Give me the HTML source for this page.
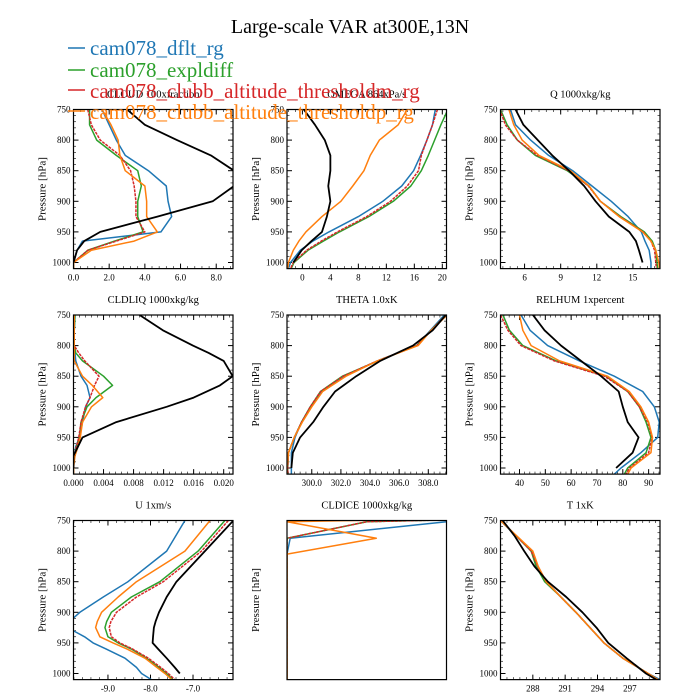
<!DOCTYPE html>
<html><head><meta charset="utf-8"><title>Large-scale VAR</title>
<style>
html,body{margin:0;padding:0;background:#fff;}
svg{display:block;font-family:"Liberation Serif",serif;}
</style></head>
<body>
<svg id="fig" width="700" height="700" viewBox="0 0 700 700" xmlns="http://www.w3.org/2000/svg">
<rect width="700" height="700" fill="#fff"/>
<text x="350" y="33" font-size="20" text-anchor="middle">Large-scale VAR at300E,13N</text>
<g id="panels"></g>
<g id="legend">
 <line x1="68" y1="48" x2="85" y2="48" stroke="#1f77b4" stroke-width="1.5"/>
 <text x="90" y="55" font-size="21" fill="#1f77b4">cam078_dflt_rg</text>
 <line x1="68" y1="70" x2="85" y2="70" stroke="#2ca02c" stroke-width="1.5"/>
 <text x="90" y="77" font-size="21" fill="#2ca02c">cam078_expldiff</text>
 <line x1="68" y1="90" x2="85" y2="90" stroke="#d62728" stroke-width="1.5"/>
 <text x="90" y="98" font-size="21" fill="#d62728">cam078_clubb_altitude_thresholdm_rg</text>
 <line x1="68" y1="111" x2="85" y2="111" stroke="#ff7f0e" stroke-width="1.5"/>
 <text x="90" y="119" font-size="21" fill="#ff7f0e">cam078_clubb_altitude_thresholdp_rg</text>
</g>
</svg>
<script>
const cloudLev=[750,775,800,825,850,875,900,925,950,965,980,1000,1010];
const cloudObs=[3.0,4.0,5.8,7.7,9.0,9.0,7.8,4.7,1.5,0.6,0.2,0,null];
const cloudDflt=[1.6,2.0,2.4,2.9,4.2,5.2,5.3,5.5,4.9,0.5,0.2,0,0];
const cloudExpl=[0.9,0.9,1.3,2.4,3.6,3.8,3.6,3.6,3.9,2.3,0.8,0,0];
const cloudTm=[0.8,1.0,1.5,2.6,3.2,3.4,3.5,3.5,4.0,2.4,0.8,0,0];
const cloudTp=[1.6,2.1,2.5,2.6,2.9,4.0,4.1,4.1,4.7,3.4,1.0,0,0];
const cloudTicks=[0,2,4,6,8];
const cloudTickLabels=["0.0","2.0","4.0","6.0","8.0"];

const omegaLev=[750,775,800,825,850,875,900,925,950,965,980,1000,1010];
const omegaObs=[0.2,1.8,3.2,4.0,4.0,3.7,4.0,3.5,2.8,1.3,-0.1,-1.3,null];
const omegaDflt=[19.0,18.6,17.8,16.9,15.9,14.2,11.5,8.0,3.8,1.5,-0.3,-1.7,-2.0];
const omegaExpl=[20.8,19.8,18.9,18.0,17.0,15.5,13.0,9.5,5.3,3.0,0.8,-1.2,-1.6];
const omegaTm=[19.3,18.6,17.8,17.0,16.6,15.0,12.6,9.2,5.0,2.7,0.6,-1.3,-1.7];
const omegaTp=[15.0,13.7,11.0,9.7,8.8,7.2,5.5,2.8,0.5,-0.5,-1.3,-2.0,-2.1];
const omegaTicks=[0,4,8,12,16,20];
const omegaTickLabels=["0","4","8","12","16","20"];

const qLev=[750,775,800,825,850,875,900,925,950,965,980,1000,1010];
const qObs=[5.25,5.9,7.1,8.3,9.7,10.95,11.9,13.0,14.7,15.25,15.5,15.8,null];
const qDflt=[4.83,5.25,6.5,8.0,10.0,11.6,13.2,14.6,15.7,16.0,16.35,16.5,16.5];
const qExpl=[4.0,4.55,5.4,6.9,9.55,11.35,12.3,14.0,15.95,16.6,16.9,17.0,17.05];
const qTm=[3.95,4.4,5.4,7.05,9.65,11.3,12.3,13.9,15.85,16.5,16.8,16.9,16.95];
const qTp=[4.7,5.1,5.8,7.2,9.8,11.35,12.3,13.85,15.8,16.5,16.9,17.15,17.2];
const qTicks=[6,9,12,15];
const qTickLabels=["6","9","12","15"];

const liqLev=[750,775,800,812,825,850,865,885,900,925,950,965,980,1000,1010];
const liqObs=[0.0088,0.0119,0.0159,0.0180,0.0200,0.0212,0.0195,0.0160,0.0124,0.0057,0.0012,0.0006,0,0,null];
const liqDflt=[0.0002,0.0001,0.0001,0.0002,0.0003,0.0010,0.0018,0.0022,0.0016,0.0012,0.0008,0.0003,0.0001,0,0];
const liqExpl=[0.0002,0.0001,0.0001,0.0003,0.0012,0.0040,0.0052,0.0030,0.0018,0.0010,0.0008,0.0004,0.0001,0,0];
const liqTm=[0.0001,0.0001,0.0001,0.0007,0.0015,0.0034,0.0028,0.0022,0.0016,0.0010,0.0007,0.0004,0.0001,0,0];
const liqTp=[0.0001,0.0001,0.0001,0.0001,0.0001,0.0012,0.0025,0.0039,0.0024,0.0012,0.0009,0.0006,0.0002,0,0];
const liqTicks=[0,0.004,0.008,0.012,0.016,0.020];
const liqTickLabels=["0.000","0.004","0.008","0.012","0.016","0.020"];

const thLev=[750,775,800,825,850,875,900,925,950,975,1000,1010];
const thObs=[309.2,308.3,306.95,304.7,303.05,301.6,300.8,300.1,299.2,298.7,298.6,null];
const thDflt=[309.1,308.15,307.2,304.5,302.2,300.7,299.9,299.3,298.85,298.6,298.6,298.6];
const thExpl=[309.2,308.2,307.2,304.55,302.1,300.6,299.9,299.3,298.8,298.4,298.35,298.35];
const thTm=[309.2,308.2,307.2,304.5,302.15,300.6,299.9,299.3,298.8,298.4,298.35,298.35];
const thTp=[309.3,308.2,307.3,304.5,302.35,300.75,300.0,299.35,298.8,298.4,298.3,298.3];
const thTicks=[300,302,304,306,308];
const thTickLabels=["300.0","302.0","304.0","306.0","308.0"];

const rhLev=[750,775,800,825,850,875,900,925,950,975,1000,1010];
const rhObs=[45.2,49.7,56.1,63.8,71.6,78.4,80.0,81.9,86.1,83.8,77.4,null];
const rhDflt=[40.6,44.1,50.9,63.2,76.7,87.7,92.2,94.1,93.5,87,79.3,76.7];
const rhExpl=[33.6,36.1,41.3,54.2,73.5,81.9,86.4,89.0,90.9,89.0,81.9,80.6];
const rhTm=[32.7,35.5,40.6,53.5,72.9,81.9,86.4,89.6,91.3,90.0,82.6,81.2];
const rhTp=[40.0,41.3,44.5,55.5,74.1,82.5,87.0,90.0,91.5,90.9,83.2,81.9];
const rhTicks=[40,50,60,70,80,90];
const rhTickLabels=["40","50","60","70","80","90"];

const uLev=[750,800,850,875,900,915,925,940,950,960,975,990,1000,1010];
const uObs=[-6.05,-6.72,-7.39,-7.62,-7.8,-7.88,-7.92,-7.94,-7.95,-7.82,-7.62,-7.43,-7.31,null];
const uDflt=[-7.19,-7.62,-8.53,-9.11,-9.66,-9.9,-9.95,-9.55,-9.35,-9.04,-8.6,-8.33,-8.21,-7.98];
const uExpl=[-6.25,-6.88,-7.78,-8.45,-8.92,-9.03,-9.07,-9.0,-8.76,-8.45,-8.09,-7.8,-7.62,-7.47];
const uTm=[-6.17,-6.8,-7.7,-8.33,-8.8,-8.93,-8.97,-8.92,-8.72,-8.42,-8.05,-7.76,-7.58,-7.43];
const uTp=[-6.6,-7.19,-8.33,-8.76,-9.15,-9.25,-9.29,-9.19,-8.88,-8.55,-8.13,-7.85,-7.66,-7.5];
const uTicks=[-9,-8,-7];
const uTickLabels=["-9.0","-8.0","-7.0"];

const iceLev=[740,752,779,805,1010];
const iceObs=[null,null,null,null,null];
const iceDflt=[1.3,1.0,0.02,0,0];
const iceExpl=[2.5,0.5,0,0,0];
const iceTm=[2.5,0.5,0,0,0];
const iceTp=[2.5,0.0,0.56,0,0];
const iceTicks=[];
const iceTickLabels=[];

const tLev=[750,775,800,825,850,875,900,925,950,975,1000,1010];
const tObs=[285.2,286.3,287.2,288.15,289.4,291.1,292.6,293.9,295.0,296.7,298.5,299.45];
const tDflt=[285.0,286.45,287.85,288.46,289.24,290.6,292.0,293.3,294.6,296.35,298.7,299.8];
const tExpl=[285.0,286.45,287.85,288.3,289.1,290.6,292.0,293.3,294.6,296.35,298.7,299.6];
const tTm=[285.0,286.45,287.85,288.46,289.24,290.6,292.0,293.3,294.6,296.35,298.7,299.6];
const tTp=[285.0,286.5,288.0,288.5,289.24,290.6,292.0,293.3,294.6,296.35,298.7,299.6];
const tTicks=[288,291,294,297];
const tTickLabels=["288","291","294","297"];

const pTicks=[750,800,850,900,950,1000];
const pTickLabels=["750","800","850","900","950","1000"];

const NS="http://www.w3.org/2000/svg";
const root=document.getElementById('panels');
function mk(tag,attrs,parent){const e=document.createElementNS(NS,tag);for(const k in attrs)e.setAttribute(k,attrs[k]);(parent||root).appendChild(e);return e;}

const COLX=[73.5,287,500.5], ROWY=[109.5,315,520.5], PW=159.5, PPX=0.612, PTOP=750, PBOT=1010;
const PH=(PBOT-PTOP)*PPX;

const panels=[
 {key:"cloud",title:"CLOUD  100xfraction",c:0,r:0,xmin:0,xmax:8.94,minor:0.4,yax:true,lev:cloudLev,s:[cloudObs,cloudDflt,cloudExpl,cloudTm,cloudTp],ticks:cloudTicks,labels:cloudTickLabels},
 {key:"omega",title:"OMEGA  864xPa/s",c:1,r:0,xmin:-2.2,xmax:20.6,minor:1,yax:true,lev:omegaLev,s:[omegaObs,omegaDflt,omegaExpl,omegaTm,omegaTp],ticks:omegaTicks,labels:omegaTickLabels},
 {key:"q",title:"Q  1000xkg/kg",c:2,r:0,xmin:4.0,xmax:17.25,minor:0.6,yax:true,lev:qLev,s:[qObs,qDflt,qExpl,qTm,qTp],ticks:qTicks,labels:qTickLabels},
 {key:"cldliq",title:"CLDLIQ  1000xkg/kg",c:0,r:1,xmin:0,xmax:0.02124,minor:0.0008,yax:true,lev:liqLev,s:[liqObs,liqDflt,liqExpl,liqTm,liqTp],ticks:liqTicks,labels:liqTickLabels},
 {key:"theta",title:"THETA  1.0xK",c:1,r:1,xmin:298.3,xmax:309.25,minor:0.4,yax:true,lev:thLev,s:[thObs,thDflt,thExpl,thTm,thTp],ticks:thTicks,labels:thTickLabels},
 {key:"relhum",title:"RELHUM  1xpercent",c:2,r:1,xmin:32.65,xmax:94.4,minor:2,yax:true,lev:rhLev,s:[rhObs,rhDflt,rhExpl,rhTm,rhTp],ticks:rhTicks,labels:rhTickLabels},
 {key:"u",title:"U  1xm/s",c:0,r:2,xmin:-9.81,xmax:-6.06,minor:0.2,yax:true,lev:uLev,s:[uObs,uDflt,uExpl,uTm,uTp],ticks:uTicks,labels:uTickLabels},
 {key:"cldice",title:"CLDICE  1000xkg/kg",c:1,r:2,xmin:0,xmax:1,minor:0,yax:false,lev:iceLev,s:[iceObs,iceDflt,iceExpl,iceTm,iceTp],ticks:iceTicks,labels:iceTickLabels},
 {key:"t",title:"T  1xK",c:2,r:2,xmin:285.0,xmax:299.8,minor:0.6,yax:true,lev:tLev,s:[tObs,tDflt,tExpl,tTm,tTp],ticks:tTicks,labels:tTickLabels}
];
const colors=["#000","#1f77b4","#2ca02c","#d62728","#ff7f0e"];
const widths=[1.8,1.5,1.5,1.5,1.5];
const snames=["obs","dflt","expldiff","thresholdm","thresholdp"];

panels.forEach(p=>{
 const x0=COLX[p.c], y0=ROWY[p.r];
 const xs=v=>x0+(v-p.xmin)/(p.xmax-p.xmin)*PW;
 const ys=pr=>y0+(pr-PTOP)*PPX;
 const g=mk('g',{});
 
 
 const cp=mk('clipPath',{id:'cp-'+p.key},g);
 mk('rect',{x:x0,y:y0,width:PW,height:PH},cp);
 const t=mk('text',{x:x0+PW/2,y:y0-12,'font-size':10.5,'text-anchor':'middle'},g);
 
 
 t.textContent=p.title;
 const yl=mk('text',{x:0,y:0,'font-size':11,'text-anchor':'middle',transform:`translate(${x0-28},${y0+PH/2}) rotate(-90)`},g);
 
 
 yl.textContent='Pressure [hPa]';
 if(p.yax){
  for(let pr=PTOP;pr<=PBOT;pr+=10){
   const major=pr%50===0, L=major?5:2.5, y=ys(pr);
   mk('line',{x1:x0,y1:y,x2:x0+L,y2:y,stroke:'#000','stroke-width':major?1:0.6},g);
   mk('line',{x1:x0+PW,y1:y,x2:x0+PW-L,y2:y,stroke:'#000','stroke-width':major?1:0.6},g);
  }
  pTicks.forEach((pr,i)=>{
   const tl=mk('text',{x:x0-3,y:ys(pr)+3,'font-size':9,'text-anchor':'end'},g);
   
   
   tl.textContent=pTickLabels[i];
  });
 }
 if(p.minor>0){
  const start=Math.ceil(p.xmin/p.minor-1e-9);
  for(let k=start;k*p.minor<=p.xmax+1e-12;k++){
   const v=k*p.minor, x=xs(v);
   mk('line',{x1:x,y1:y0+PH,x2:x,y2:y0+PH-2.5,stroke:'#000','stroke-width':0.6},g);
   mk('line',{x1:x,y1:y0,x2:x,y2:y0+2.5,stroke:'#000','stroke-width':0.6},g);
  }
 }
 p.ticks.forEach((v,i)=>{
  const x=xs(v);
  mk('line',{x1:x,y1:y0+PH,x2:x,y2:y0+PH-5,stroke:'#000','stroke-width':1},g);
  mk('line',{x1:x,y1:y0,x2:x,y2:y0+5,stroke:'#000','stroke-width':1},g);
  const tl=mk('text',{x:x,y:y0+PH+12,'font-size':9,'text-anchor':'middle'},g);
  
  
  tl.textContent=p.labels[i];
 });
 const sg=mk('g',{'clip-path':`url(#cp-${p.key})`},g);
 [1,2,3,4,0].forEach(si=>{
  const vals=p.s[si]; let d='';let pen=false;
  vals.forEach((v,i)=>{
   if(v===null){pen=false;return;}
   d+=(pen?'L':'M')+xs(v).toFixed(2)+','+ys(p.lev[i]).toFixed(2);pen=true;
  });
  if(!d)return;
  const path=mk('path',{d:d,fill:'none',stroke:colors[si],'stroke-width':widths[si],'stroke-linejoin':'round'},sg);
  if(si===3)path.setAttribute('stroke-dasharray','3,1');
  
  
 });
 mk('rect',{x:x0,y:y0,width:PW,height:PH,fill:'none',stroke:'#000','stroke-width':1.2},g);
});
</script>
</body></html>
